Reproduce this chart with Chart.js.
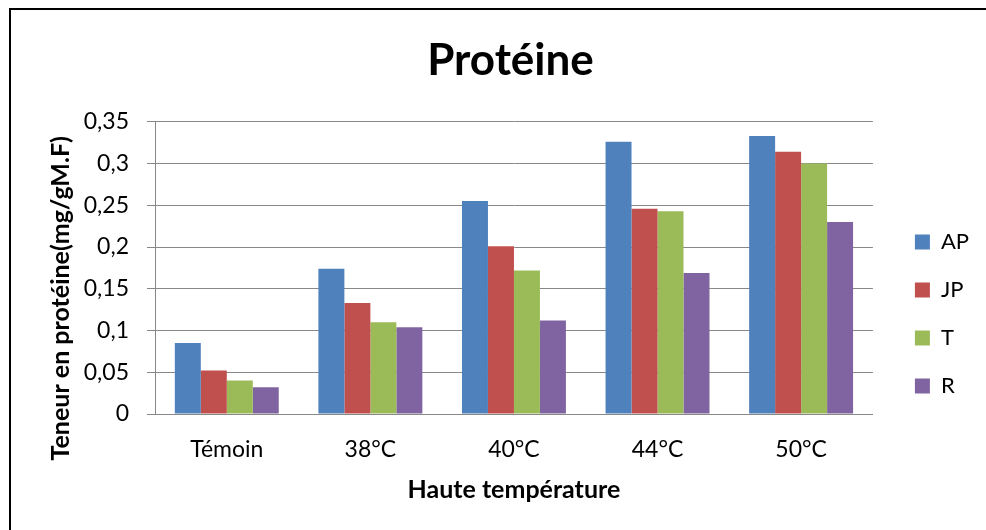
<!DOCTYPE html>
<html lang="fr">
<head>
  <meta charset="UTF-8">
  <title>Protéine</title>
  <script src="https://cdn.jsdelivr.net/npm/chart.js"></script>
  <style>
    html, body { margin: 0; padding: 0; background: #fff; }
    #wrap { position: relative; width: 986px; height: 530px; overflow: hidden; }
    #frame { position: absolute; left: 9px; top: 8px; width: 1100px; height: 700px; border: 2px solid #000; pointer-events: none; }
  </style>
</head>
<body>
  <div id="wrap">
    <canvas id="chart" width="986" height="530"></canvas>
    <div id="frame"></div>
  </div>

  <script>
    const categories = ['Témoin', '38°C', '40°C', '44°C', '50°C'];
    const apValues = [0.085, 0.174, 0.255, 0.326, 0.333];
    const jpValues = [0.052, 0.133, 0.201, 0.246, 0.314];
    const tValues = [0.040, 0.110, 0.172, 0.243, 0.300];
    const rValues = [0.032, 0.104, 0.112, 0.169, 0.230];
    const yTickLabels = ['0', '0,05', '0,1', '0,15', '0,2', '0,25', '0,3', '0,35'];

    const font = 'Lato';
    const gridColor = '#888888';

    new Chart(document.getElementById('chart'), {
      type: 'bar',
      data: {
        labels: categories,
        datasets: [
          { label: 'AP', data: apValues, backgroundColor: '#4F81BD' },
          { label: 'JP', data: jpValues, backgroundColor: '#C0504D' },
          { label: 'T', data: tValues, backgroundColor: '#9BBB59' },
          { label: 'R', data: rValues, backgroundColor: '#8064A2' }
        ]
      },
      options: {
        responsive: false,
        animation: false,
        layout: { padding: { left: 42, right: 7, top: 0, bottom: 0 } },
        datasets: { bar: { barPercentage: 1, categoryPercentage: 0.724 } },
        plugins: {
          tooltip: { enabled: false },
          title: {
            display: true,
            text: 'Protéine',
            color: '#000',
            font: { family: font, size: 44, weight: 'bold' },
            padding: { top: 34, bottom: 35 }
          },
          legend: {
            position: 'right',
            align: 'start',
            // empty title only pushes the items down
            title: { display: true, text: ' ', font: { size: 10 }, padding: { top: 193, bottom: 0 } },
            labels: {
              color: '#000',
              font: { family: font, size: 22 },
              boxWidth: 15,
              boxHeight: 15,
              padding: 26
            }
          }
        },
        scales: {
          x: {
            grid: { display: false, drawTicks: false },
            border: { color: gridColor },
            ticks: { color: '#000', font: { family: font, size: 23 }, padding: 22 },
            title: {
              display: true,
              text: 'Haute température',
              color: '#000',
              font: { family: font, size: 25, weight: 'bold' },
              padding: { top: 0, bottom: 25 }
            },
            afterFit: s => { s.height = 116; }
          },
          y: {
            min: 0,
            max: 0.35,
            ticks: {
              stepSize: 0.05,
              color: '#000',
              font: { family: font, size: 23 },
              padding: 18,
              callback: (v, i) => yTickLabels[i]
            },
            grid: { color: gridColor, tickLength: 8 },
            border: { color: gridColor },
            title: {
              display: true,
              // trailing spaces shift the title down like in the original
              text: 'Teneur en protéine(mg/gM.F)          ',
              color: '#000',
              font: { family: font, size: 25, weight: 'bold' },
              padding: { top: 4, bottom: 0 }
            },
            afterFit: s => { s.width = 113; }
          },
          // blank spacer between plot and legend
          gap: {
            position: 'right',
            display: true,
            grid: { display: false, drawTicks: false },
            border: { display: false },
            ticks: { display: false },
            afterFit: s => { s.width = 16; }
          }
        }
      }
    });
  </script>
</body>
</html>
